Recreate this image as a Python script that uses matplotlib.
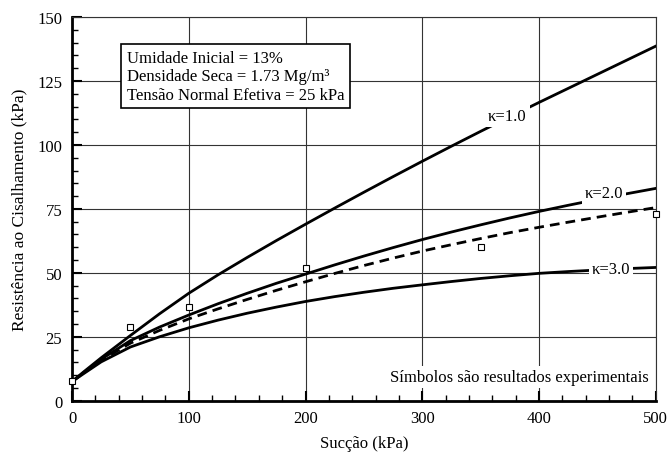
import matplotlib
matplotlib.use("Agg")
import matplotlib.pyplot as plt
from matplotlib.ticker import MultipleLocator

plt.rcParams['font.family'] = ['Liberation Serif', 'DejaVu Serif']

suction = [0, 10, 25, 50, 75, 100, 125, 150, 175, 200, 225, 250, 275, 300,
           325, 350, 375, 400, 425, 450, 475, 500]
k1 = [7.5, 11.3, 16.8, 25.5, 34, 42, 49.2, 56.0, 62.6, 69.0, 75.3, 81.5, 87.6, 93.6,
      99.5, 105.3, 111.0, 116.6, 122.1, 127.6, 133.1, 138.6]
k2 = [7.5, 11, 16.2, 23.5, 28.8, 33.5, 37.9, 42.0, 45.9, 49.5, 53.1, 56.55, 59.85, 63.0,
      65.95, 68.75, 71.45, 74.0, 76.4, 78.7, 80.9, 83.0]
k_fit = [7.5, 10.9, 15.8, 22.5, 27.5, 32, 35.9, 39.6, 43.15, 46.5, 49.75, 52.85, 55.75, 58.5,
         61.0, 63.4, 65.7, 67.8, 69.8, 71.75, 73.65, 75.5]
k3 = [7.5, 10.6, 15.2, 21, 25, 28.5, 31.5, 34.2, 36.6, 38.8, 40.7, 42.4, 43.95, 45.3,
      46.6, 47.8, 48.85, 49.8, 50.5, 51.1, 51.65, 52.1]

exp_x = [0, 50, 100, 200, 350, 500]
exp_y = [7.7, 29, 36.7, 52, 60, 73]

fig = plt.figure(figsize=(6.7, 4.56), dpi=100)
ax = fig.add_axes([0.1075, 0.119, 0.8712, 0.8415])

ax.set_xlim(0, 500)
ax.set_ylim(0, 150)
ax.xaxis.set_major_locator(MultipleLocator(100))
ax.xaxis.set_minor_locator(MultipleLocator(20))
ax.yaxis.set_major_locator(MultipleLocator(25))
ax.yaxis.set_minor_locator(MultipleLocator(5))
ax.grid(True, which='major', color='#333333', lw=0.8, zorder=0)
ax.tick_params(which='both', direction='in', top=False, right=False, labelsize=12)
ax.tick_params(which='major', length=7, width=1.5, pad=7)
ax.tick_params(which='minor', length=4, width=1.0)
for s in ['left', 'bottom']:
    ax.spines[s].set_linewidth(2.0)
for s in ['top', 'right']:
    ax.spines[s].set_linewidth(0.8)
    ax.spines[s].set_color('#333333')

lw = 2.0
ax.plot(suction, k1, color='black', lw=lw, zorder=3)
ax.plot(suction, k2, color='black', lw=lw, zorder=3)
ax.plot(suction, k3, color='black', lw=lw, zorder=3)
ax.plot(suction, k_fit, color='black', lw=lw, ls=(0, (3.5, 2.2)), zorder=3)
ax.plot(exp_x, exp_y, ls='none', marker='s', ms=5, mfc='white', mec='black',
        mew=0.8, zorder=5, clip_on=False)

bb = dict(facecolor='white', edgecolor='none', pad=2)
ax.text(373, 111.3, 'κ=1.0', ha='center', va='center', fontsize=12, bbox=bb, zorder=4)
ax.text(456, 81.1, 'κ=2.0', ha='center', va='center', fontsize=12, bbox=bb, zorder=4)
ax.text(462, 51.4, 'κ=3.0', ha='center', va='center', fontsize=12, bbox=bb, zorder=4)

ax.text(47, 126.8, 'Umidade Inicial = 13%\nDensidade Seca = 1.73 Mg/m³\nTensão Normal Efetiva = 25 kPa',
        ha='left', va='center', fontsize=12, linespacing=1.2, zorder=6,
        bbox=dict(facecolor='white', edgecolor='black', lw=1.2, pad=4))

ax.text(494, 9.4, 'Símbolos são resultados experimentais', ha='right', va='center',
        fontsize=12, zorder=6, bbox=dict(facecolor='white', edgecolor='none', pad=2))

ax.set_xlabel('Sucção (kPa)', fontsize=12, labelpad=6)
ax.set_ylabel('Resistência ao Cisalhamento (kPa)', fontsize=12.5, labelpad=7)

fig.savefig('out.png', dpi=100)
